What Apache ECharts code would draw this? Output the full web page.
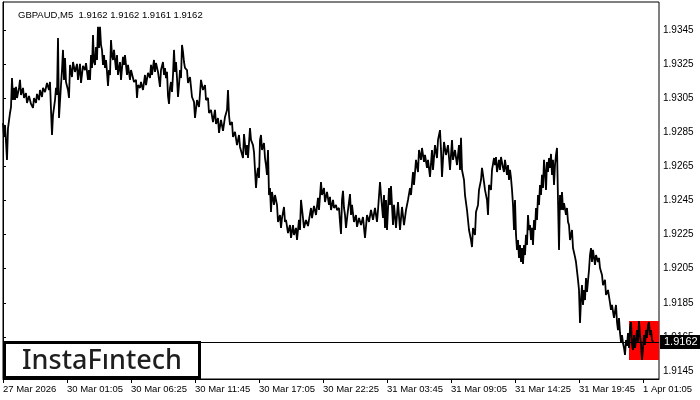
<!DOCTYPE html>
<html><head><meta charset="utf-8">
<script src="https://cdn.jsdelivr.net/npm/echarts@6/dist/echarts.min.js"></script>
<style>html,body{margin:0;padding:0;background:#fff}#c{width:700px;height:400px}</style>
</head><body><div id="c"></div>
<script>
// Tick labels (bottom axis, one every 64 five-minute bars)
const timeLabels = ['27 Mar 2026','30 Mar 01:05','30 Mar 06:25','30 Mar 11:45','30 Mar 17:05','30 Mar 22:25','31 Mar 03:45','31 Mar 09:05','31 Mar 14:25','31 Mar 19:45','1 Apr 01:05'];
const xTicks = [0,64,128,192,256,320,384,448,512,576,640];
const yTicks = [1.9145,1.9165,1.9185,1.9205,1.9225,1.9245,1.9265,1.9285,1.9305,1.9325,1.9345];
const lastPrice = 1.9162;
const boxBars = [626, 656];
const boxPrices = [1.91743, 1.91515];

// Price path: [bar index, price] (alternating highs and lows)
const seg1 = [[0,1.92904],[1,1.92822],[2,1.92893],[3,1.92793],[4,1.92688],[5,1.92875],[7,1.92963],[8,1.92998],[9,1.93168],[10,1.93039],[11,1.93110],[12,1.93039],[13,1.93116],[14,1.93051],[16,1.93110],[17,1.93157],[18,1.93069],[20,1.93110],[21,1.93051],[23,1.93080],[24,1.93022],[26,1.93063],[28,1.93016],[30,1.92993],[31,1.93051],[33,1.93022],[34,1.93075],[36,1.93039],[37,1.93098],[39,1.93057],[40,1.93110],[42,1.93086],[44,1.93139],[46,1.93098],[47,1.93145],[48,1.92981],[49,1.92834],[50,1.92951],[52,1.93039],[53,1.93110],[54,1.93069],[55,1.93403],[56,1.92934],[58,1.93127],[59,1.93215],[60,1.93333],[61,1.93157],[62,1.93286],[63,1.93145],[65,1.93098],[66,1.93051],[67,1.93245],[69,1.93174],[70,1.93262],[72,1.93204],[74,1.93251],[75,1.93157],[77,1.93251],[78,1.93139],[80,1.93239],[82,1.93215],[83,1.93256],[85,1.93157],[86,1.93215],[87,1.93157],[88,1.93303],[89,1.93227],[90,1.93421],[91,1.93262],[92,1.93245],[93,1.93350],[94,1.93274],[95,1.93468],[96,1.93344],[97,1.93468],[98,1.93362],[99,1.93333],[100,1.93245],[101,1.93303],[102,1.93227],[103,1.93274],[104,1.93204],[105,1.93122],[106,1.93215],[107,1.93186],[108,1.93391],[109,1.93303],[110,1.93274],[111,1.93333],[113,1.93215],[114,1.93303],[115,1.93186],[117,1.93262],[118,1.93157],[120,1.93292],[121,1.93245],[122,1.93303],[124,1.93186],[125,1.93245],[127,1.93157],[128,1.93215],[130,1.93204],[131,1.93145],[133,1.93157],[134,1.93051],[135,1.93127],[137,1.93110],[138,1.93145],[140,1.93098],[142,1.93186],[143,1.93127],[145,1.93198],[147,1.93169],[148,1.93245],[149,1.93186],[151,1.93274],[152,1.93204],[153,1.93256],[155,1.93204],[157,1.93116],[158,1.93215],[160,1.93262],[161,1.93186]];
const seg2 = [[162,1.93227],[163,1.93168],[164,1.93204],[165,1.93063],[166,1.93016],[167,1.93110],[168,1.93145],[169,1.93086],[170,1.93186],[171,1.93333],[172,1.93204],[173,1.93262],[174,1.93168],[175,1.93057],[176,1.93127],[177,1.93215],[178,1.93168],[179,1.93362],[180,1.93321],[181,1.93262],[182,1.93227],[184,1.93215],[185,1.93139],[187,1.93174],[189,1.93057],[191,1.93028],[192,1.92934],[194,1.93039],[196,1.92998],[198,1.93157],[199,1.93168],[200,1.93098],[202,1.93127],[203,1.93039],[205,1.93051],[206,1.92963],[208,1.92981],[210,1.92910],[212,1.92981],[213,1.92899],[215,1.92934],[216,1.92846],[218,1.92922],[220,1.92858],[222,1.92940],[224,1.92981],[225,1.93098],[226,1.92951],[227,1.92893],[229,1.92910],[230,1.92822],[232,1.92852],[234,1.92775],[236,1.92834],[237,1.92764],[239,1.92775],[240,1.92699],[241,1.92840],[243,1.92717],[244,1.92775],[245,1.92699],[247,1.92875],[248,1.92805],[250,1.92775],[251,1.92734],[252,1.92629],[253,1.92523],[254,1.92600],[255,1.92641],[256,1.92582],[257,1.92805],[258,1.92834],[259,1.92746],[261,1.92787],[262,1.92699],[263,1.92658],[264,1.92600],[265,1.92746],[266,1.92482],[267,1.92523],[268,1.92383],[269,1.92500],[271,1.92424],[272,1.92482],[274,1.92424],[275,1.92324],[277,1.92365],[278,1.92289],[279,1.92347],[281,1.92412],[282,1.92324],[283,1.92336],[285,1.92259],[287,1.92306],[288,1.92230],[290,1.92306],[291,1.92248],[293,1.92289],[294,1.92218],[296,1.92336],[297,1.92277],[298,1.92453],[300,1.92347],[301,1.92289],[303,1.92336],[305,1.92300],[306,1.92336],[308,1.92406],[309,1.92347],[311,1.92418],[313,1.92365],[315,1.92465],[316,1.92394],[318,1.92558],[319,1.92482],[321,1.92523],[322,1.92441],[324,1.92500],[326,1.92424]];
const seg3 = [[327,1.92471],[328,1.92394],[330,1.92453],[331,1.92406],[333,1.92424],[334,1.92394],[336,1.92406],[337,1.92324],[338,1.92254],[339,1.92453],[340,1.92506],[341,1.92406],[342,1.92365],[343,1.92289],[345,1.92394],[347,1.92488],[348,1.92365],[349,1.92424],[351,1.92324],[353,1.92365],[354,1.92295],[356,1.92347],[358,1.92306],[360,1.92353],[361,1.92289],[362,1.92230],[364,1.92365],[366,1.92324],[368,1.92394],[370,1.92336],[372,1.92406],[374,1.92324],[375,1.92394],[377,1.92558],[378,1.92482],[380,1.92347],[381,1.92482],[382,1.92289],[383,1.92453],[384,1.92277],[386,1.92523],[387,1.92424],[388,1.92535],[390,1.92306],[391,1.92424],[393,1.92289],[395,1.92441],[397,1.92277],[399,1.92412],[401,1.92306],[403,1.92394],[405,1.92453],[407,1.92523],[408,1.92482],[410,1.92617],[411,1.92541],[413,1.92688],[415,1.92617],[416,1.92746],[418,1.92688],[419,1.92758],[421,1.92676],[422,1.92717],[424,1.92641],[425,1.92688],[427,1.92588],[429,1.92746],[430,1.92629],[432,1.92775],[434,1.92699],[435,1.92805],[437,1.92863],[438,1.92746],[439,1.92588],[441,1.92793],[443,1.92717],[445,1.92775],[447,1.92629],[448,1.92717],[449,1.92805],[450,1.92688],[452,1.92746],[454,1.92658],[456,1.92775],[457,1.92629],[458,1.92817],[459,1.92629],[461,1.92570],[462,1.92482],[464,1.92394],[466,1.92277],[468,1.92218],[469,1.92177],[470,1.92289],[472,1.92248],[473,1.92383],[475,1.92424],[476,1.92512],[478,1.92570],[479,1.92641],[480,1.92600],[481,1.92558],[482,1.92512],[484,1.92453],[485,1.92365],[486,1.92541],[488,1.92512],[489,1.92629],[491,1.92699]];
const seg4 = [[492,1.92658],[493,1.92705],[494,1.92617],[496,1.92688],[497,1.92629],[498,1.92705],[500,1.92641],[501,1.92617],[502,1.92688],[504,1.92600],[505,1.92658],[506,1.92570],[507,1.92629],[508,1.92582],[509,1.92512],[510,1.92424],[511,1.92277],[512,1.92453],[513,1.92248],[514,1.92160],[515,1.92218],[516,1.92113],[517,1.92189],[518,1.92089],[519,1.92171],[520,1.92078],[521,1.92189],[522,1.92130],[523,1.92248],[524,1.92189],[525,1.92365],[526,1.92277],[527,1.92306],[528,1.92218],[529,1.92289],[530,1.92189],[531,1.92336],[532,1.92277],[533,1.92406],[534,1.92336],[535,1.92482],[536,1.92424],[537,1.92541],[538,1.92482],[539,1.92600],[540,1.92523],[541,1.92688],[542,1.92617],[543,1.92512],[544,1.92676],[545,1.92617],[546,1.92699],[547,1.92641],[548,1.92723],[549,1.92600],[550,1.92688],[551,1.92541],[552,1.92658],[553,1.92717],[554,1.92758],[555,1.92453],[556,1.92160],[557,1.92482],[558,1.92394],[559,1.92500],[560,1.92394],[561,1.92435],[563,1.92365],[564,1.92406],[565,1.92324],[566,1.92306],[567,1.92218],[569,1.92277],[570,1.92171],[572,1.92119],[573,1.92089],[575,1.91984],[576,1.91925],[577,1.91732],[578,1.91866],[579,1.91954],[580,1.91837],[581,1.91925],[582,1.91866],[583,1.91995],[584,1.91913],[586,1.92042],[587,1.92130],[588,1.92171],[589,1.92089],[590,1.92160],[592,1.92072],[593,1.92130],[595,1.92089],[596,1.92113],[597,1.92054],[599,1.92013],[600,1.91954],[602,1.91984],[603,1.91896],[605,1.91925],[607,1.91849],[608,1.91808],[609,1.91837],[611,1.91761],[613,1.91837],[614,1.91737],[615,1.91690],[616,1.91761],[617,1.91673],[618,1.91620],[619,1.91661],[620,1.91614],[621,1.91585],[622,1.91544],[623,1.91632],[624,1.91597],[625,1.91673],[626,1.91585],[627,1.91702],[628,1.91737],[629,1.91603],[630,1.91573],[631,1.91661],[632,1.91585],[633,1.91632],[634,1.91690],[635,1.91620],[636,1.91743],[637,1.91661],[638,1.91603],[639,1.91515],[640,1.91585],[641,1.91661],[642,1.91603],[643,1.91690],[644,1.91644],[645,1.91720],[646,1.91737],[647,1.91661],[648,1.91690],[649,1.91632],[650,1.91620]];

const pricePath = seg1.concat(seg2, seg3, seg4);
const FONT = 'Liberation Sans';
const X_MIN = 0, X_MAX = 656;

const chart = echarts.init(document.getElementById('c'), null, {renderer: 'canvas'});
chart.setOption({
  animation: false,
  backgroundColor: '#fff',
  title: {
    text: 'GBPAUD,M5  1.9162 1.9162 1.9161 1.9162',
    left: 13, top: 5,
    textStyle: {fontFamily: FONT, fontSize: 9.5, fontWeight: 'normal', color: '#000'}
  },
  grid: {left: 3, right: 41, top: 2, bottom: 21, show: true, borderColor: '#000', borderWidth: 1, backgroundColor: '#fff'},
  xAxis: {
    type: 'value', min: X_MIN, max: X_MAX,
    axisLine: {show: true, lineStyle: {color: '#000', width: 1}},
    axisTick: {show: true, customValues: xTicks, length: 4, lineStyle: {color: '#000'}},
    axisLabel: {
      customValues: xTicks,
      formatter: function (v) { const i = xTicks.indexOf(v); return i >= 0 ? timeLabels[i] : ''; },
      align: 'left', margin: 5, fontFamily: FONT, fontSize: 9.5, color: '#000'
    },
    splitLine: {show: false}
  },
  yAxis: {
    type: 'value', position: 'right', min: 1.91403, max: 1.93614, scale: true,
    axisLine: {show: true, lineStyle: {color: '#000', width: 1}},
    axisTick: {show: true, customValues: yTicks, length: 3, lineStyle: {color: '#000'}},
    axisLabel: {
      customValues: yTicks,
      formatter: function (v) { return v.toFixed(4); },
      margin: 4, fontFamily: FONT, fontSize: 10, color: '#000'
    },
    splitLine: {show: false}
  },
  series: [{
    type: 'line',
    data: pricePath,
    symbol: 'none',
    lineStyle: {color: '#000', width: 1.8},
    z: 5,
    markArea: {
      silent: true,
      itemStyle: {color: '#ff0000', opacity: 1},
      data: [[{coord: [boxBars[0], boxPrices[0]]}, {coord: [boxBars[1], boxPrices[1]]}]]
    },
    markLine: {
      silent: true,
      symbol: ['none', 'none'],
      lineStyle: {color: '#000', width: 1, type: 'solid'},
      label: {
        show: true, position: 'end', distance: 1,
        formatter: function () { return lastPrice.toFixed(4); },
        backgroundColor: '#000', color: '#fff', padding: [2, 4, 1, 4],
        fontFamily: FONT, fontSize: 11
      },
      data: [[{coord: [X_MIN, lastPrice]}, {coord: [X_MAX, lastPrice]}]]
    }
  }],
  graphic: [
    {type: 'rect', shape: {x: 4.5, y: 342.5, width: 195, height: 35}, style: {fill: '#fff', stroke: '#000', lineWidth: 3}, z: 100},
    {type: 'text', x: 102, y: 361, style: {text: 'InstaFıntech', align: 'center', verticalAlign: 'middle', font: '500 27px "Noto Sans"', fill: '#1e1e1e'}, z: 101}
  ]
});
</script>
</body></html>
